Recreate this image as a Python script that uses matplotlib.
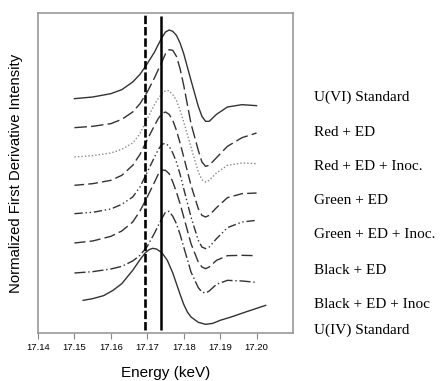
import matplotlib
matplotlib.use('Agg')
import matplotlib.pyplot as plt

# Energies (keV) shared by the top seven spectra
energy = [17.150, 17.155, 17.160, 17.163, 17.166, 17.168, 17.170, 17.172, 17.173,
          17.174, 17.175, 17.176, 17.177, 17.178, 17.179, 17.180, 17.182, 17.184,
          17.185, 17.186, 17.187, 17.189, 17.192, 17.196, 17.200]

# Stacked first-derivative spectra (offset, arbitrary units)
u6_std = [70.5, 71.0, 72.0, 73.2, 75.5, 77.8, 81.0, 84.5, 86.7, 88.8, 90.5, 91.1, 90.7,
          89.5, 87.2, 84.0, 76.0, 68.2, 65.2, 63.7, 63.7, 65.8, 68.0, 68.7, 68.4]
red_ed = [61.8, 62.2, 63.0, 64.3, 66.5, 69.0, 72.5, 76.8, 79.2, 81.5, 84.0, 85.2, 85.0,
          83.2, 79.5, 74.5, 63.0, 55.0, 51.5, 50.2, 50.5, 52.8, 56.2, 58.8, 60.2]
red_ed_inoc = [53.0, 53.4, 54.2, 55.3, 57.2, 60.0, 64.5, 68.8, 70.5, 72.0, 72.9, 72.9, 71.7,
               70.0, 67.0, 63.5, 56.0, 48.5, 46.2, 45.5, 46.0, 48.2, 50.5, 51.2, 51.0]
green_ed = [44.5, 45.0, 46.0, 47.5, 50.5, 53.8, 58.2, 62.5, 64.5, 66.0, 66.5, 65.8, 64.0,
            61.0, 57.2, 53.0, 44.5, 37.5, 35.5, 35.0, 35.5, 37.8, 40.8, 42.0, 42.2]
green_ed_inoc = [36.0, 36.4, 37.4, 38.8, 41.0, 44.0, 48.5, 53.0, 55.2, 56.8, 57.1, 56.2, 54.2,
                 51.5, 47.8, 43.5, 35.0, 28.0, 26.0, 25.5, 26.0, 28.5, 31.8, 33.5, 34.0]
black_ed = [27.2, 27.8, 29.2, 30.8, 33.5, 36.8, 41.0, 45.5, 47.8, 49.1, 49.0, 48.0, 45.5,
            42.5, 39.0, 35.0, 27.0, 21.5, 20.0, 19.5, 20.0, 22.0, 23.4, 23.5, 23.4]
black_ed_inoc = [18.2, 18.6, 19.4, 20.2, 21.8, 23.5, 26.2, 30.2, 32.4, 34.5, 36.5, 36.7, 35.2,
                 33.0, 29.8, 26.0, 18.5, 13.8, 12.5, 12.2, 12.8, 14.8, 16.0, 15.8, 15.4]

# U(IV) standard has its own energy range
energy_u4 = [17.1524, 17.155, 17.158, 17.1606, 17.163, 17.166, 17.168, 17.1695, 17.1705,
             17.1715, 17.1725, 17.174, 17.1755, 17.177, 17.178, 17.179, 17.180, 17.181,
             17.182, 17.184, 17.186, 17.188, 17.190, 17.193, 17.197, 17.2025]
u4_std = [10.0, 10.5, 11.4, 13.0, 15.0, 19.0, 22.2, 24.3, 25.2, 25.6, 25.4, 24.3, 22.0,
          18.2, 15.0, 11.8, 8.8, 6.5, 5.0, 3.4, 2.8, 3.1, 4.0, 5.0, 6.5, 8.5]

labels = ['U(VI) Standard', 'Red + ED', 'Red + ED + Inoc.', 'Green + ED',
          'Green + ED + Inoc.', 'Black + ED', 'Black + ED + Inoc', 'U(IV) Standard']
label_y = [97, 132, 167, 200, 235, 270, 305, 330]   # pixel rows of the side labels

edge_u4 = 17.1693
edge_u6 = 17.1739
xticks = [17.14, 17.15, 17.16, 17.17, 17.18, 17.19, 17.20]

W, H = 443, 381
fig = plt.figure(figsize=(W / 100, H / 100), dpi=100)
ax = fig.add_axes([38 / W, 1 - 333 / H, 255 / W, 320 / H])

c = '#333333'
ax.plot(energy, u6_std, color=c, lw=1.0, ls='-')
ax.plot(energy, red_ed, color=c, lw=1.0, ls=(0, (9, 3)))
ax.plot(energy, red_ed_inoc, color='#888888', lw=1.0, ls=(0, (1, 1.5)))
ax.plot(energy, green_ed, color=c, lw=1.0, ls=(0, (7, 3)))
ax.plot(energy, green_ed_inoc, color=c, lw=1.0, ls=(0, (6, 2, 1, 2, 1, 2)))
ax.plot(energy, black_ed, color=c, lw=1.0, ls=(0, (8, 3)))
ax.plot(energy, black_ed_inoc, color=c, lw=1.0, ls=(0, (8, 2, 1, 2)))
ax.plot(energy_u4, u4_std, color=c, lw=1.0, ls='-')

ax.vlines(edge_u4, 1.0, 95.5, color='black', lw=1.9, linestyles=(0, (3.2, 1.1)))
ax.vlines(edge_u6, 1.0, 95.2, color='black', lw=1.8)

ax.set_xlim(17.14, 17.21)
ax.set_ylim(0.2, 96.2)
ax.set_xticks(xticks)
ax.set_xticklabels(['%.2f' % t for t in xticks], fontsize=6.8, family='Liberation Sans')
ax.set_yticks([])
ax.tick_params(axis='x', length=4, color='#888888', pad=3)
for s in ax.spines.values():
    s.set_color('#999999')
    s.set_linewidth(1.2)

ax.set_xlabel('Energy (keV)', fontsize=11, family='Liberation Sans', labelpad=10)
ax.set_ylabel('Normalized First Derivative Intensity', fontsize=10.7,
              family='Liberation Sans', labelpad=11)

for txt, yp in zip(labels, label_y):
    fig.text(314 / W, 1 - yp / H, txt, fontsize=11, family='Liberation Serif',
             va='center', ha='left')

fig.savefig('out.png', dpi=100)
